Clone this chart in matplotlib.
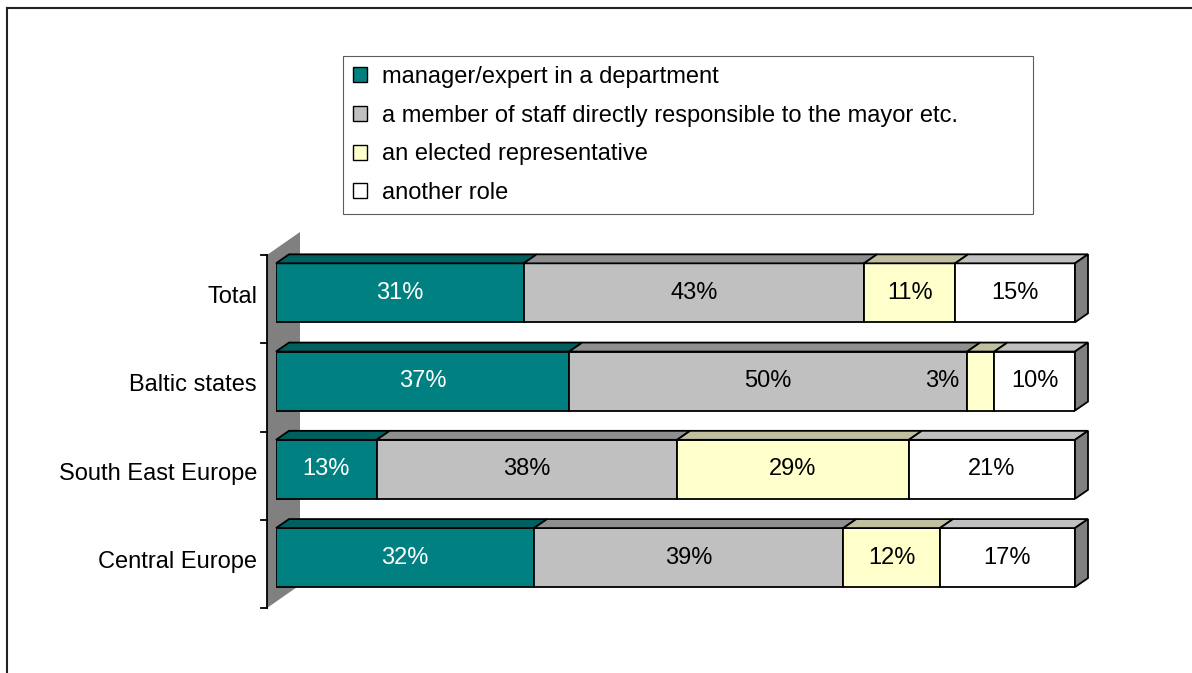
import matplotlib.pyplot as plt
import numpy as np
from matplotlib.patches import Polygon, Patch
from matplotlib.lines import Line2D

plt.rcParams['font.family'] = ['Liberation Sans', 'DejaVu Sans']

# data (top to bottom as in the chart)
categories = ['Total', 'Baltic states', 'South East Europe', 'Central Europe']
roles = ['manager/expert in a department',
         'a member of staff directly responsible to the mayor etc.',
         'an elected representative',
         'another role']
manager = [31.0, 36.7, 12.6, 32.3]
staff = [42.6, 49.8, 37.6, 38.7]
elected = [11.4, 3.4, 29.0, 12.1]
other = [15.0, 10.1, 20.8, 16.9]

series = [manager, staff, elected, other]
front_cols = ['#008080', '#c0c0c0', '#ffffcc', '#ffffff']
top_cols = ['#005f5f', '#8f8f8f', '#c0c0a0', '#c0c0c0']
text_cols = ['white', 'black', 'black', 'black']
FS = 17

W, H = 1192, 673
fig = plt.figure(figsize=(W / 100, H / 100), dpi=100)
# axes = front plane of the bars, 0..100 %
ax_l, ax_r, ax_t, ax_b = 276, 1075, 248.7, 601.7
ax = fig.add_axes([ax_l / W, 1 - ax_b / H, (ax_r - ax_l) / W, (ax_b - ax_t) / H])
n = len(categories)
ax.set_xlim(0, 100)
ax.set_ylim(-0.5, n - 0.5)
ax.axis('off')

# pixel -> data scale
sx = 100 / (ax_r - ax_l)
sy = n / (ax_b - ax_t)
bar_h = 59 * sy
ddx, ddy = 13 * sx, 9 * sy          # bar depth
fx, fy = -9 * sx, -6.3 * sy         # front plane of the floor/wall
bx, by = 24 * sx, 16.7 * sy         # back plane of the wall

# side wall
wall = Polygon([(fx, -0.5 + fy), (fx, n - 0.5 + fy), (bx, n - 0.5 + by), (bx, -0.5 + by)],
               closed=True, facecolor='#808080', edgecolor='none', zorder=1, clip_on=False)
ax.add_patch(wall)

# axis line and ticks
ax.plot([fx, fx], [-0.5 + fy, n - 0.5 + fy], color='black', lw=1.3, clip_on=False, zorder=2)
for b in np.arange(n + 1) - 0.5:
    ax.plot([fx - 6 * sx, fx], [b + fy, b + fy], color='black', lw=1.3, clip_on=False, zorder=2)

ypos = np.arange(n)[::-1]
for k, cat in enumerate(categories):
    y = ypos[k]
    ax.text(fx - 10 * sx, y + fy + 2 * sy, cat, ha='right', va='center', fontsize=FS)
    left = 0
    for j, s in enumerate(series):
        v = s[k]
        ax.barh(y, v, left=left, height=bar_h, color=front_cols[j], edgecolor='black',
                linewidth=1.3, zorder=3)
        top = Polygon([(left, y + bar_h / 2), (left + v, y + bar_h / 2),
                       (left + v + ddx, y + bar_h / 2 + ddy), (left + ddx, y + bar_h / 2 + ddy)],
                      closed=True, facecolor=top_cols[j], edgecolor='black', linewidth=1.3,
                      zorder=3, clip_on=False)
        ax.add_patch(top)
        label = f'{v:.0f}%'
        if v < 5:
            ax.text(left - 8 * sx, y, label, ha='right', va='center', fontsize=FS,
                    color='black', zorder=5)
        else:
            ax.text(left + v / 2, y, label, ha='center', va='center', fontsize=FS,
                    color=text_cols[j], zorder=5)
        left += v
    end = Polygon([(left, y - bar_h / 2), (left, y + bar_h / 2),
                   (left + ddx, y + bar_h / 2 + ddy), (left + ddx, y - bar_h / 2 + ddy)],
                  closed=True, facecolor='#808080', edgecolor='black', linewidth=1.3,
                  zorder=3, clip_on=False)
    ax.add_patch(end)

# legend
handles = [Patch(facecolor=c, edgecolor='black', linewidth=1.0) for c in front_cols]
leg = fig.legend(handles, roles, loc='upper left',
                 bbox_to_anchor=(343 / W, 1 - 216 / H, (1033 - 343) / W, 160 / H),
                 mode='expand', fontsize=FS, frameon=True, fancybox=False, edgecolor='#333333',
                 handlelength=0.6, handleheight=0.6, handletextpad=0.65,
                 labelspacing=0.71, borderpad=0.42, borderaxespad=0)
leg.get_frame().set_linewidth(0.8)

# chart area border (top and left visible)
fig.add_artist(Line2D([7 / W, 1], [1 - 8 / H, 1 - 8 / H], color='#222222', lw=1.5))
fig.add_artist(Line2D([7 / W, 7 / W], [0, 1 - 8 / H], color='#222222', lw=1.5))

fig.savefig('out.png', dpi=100)
